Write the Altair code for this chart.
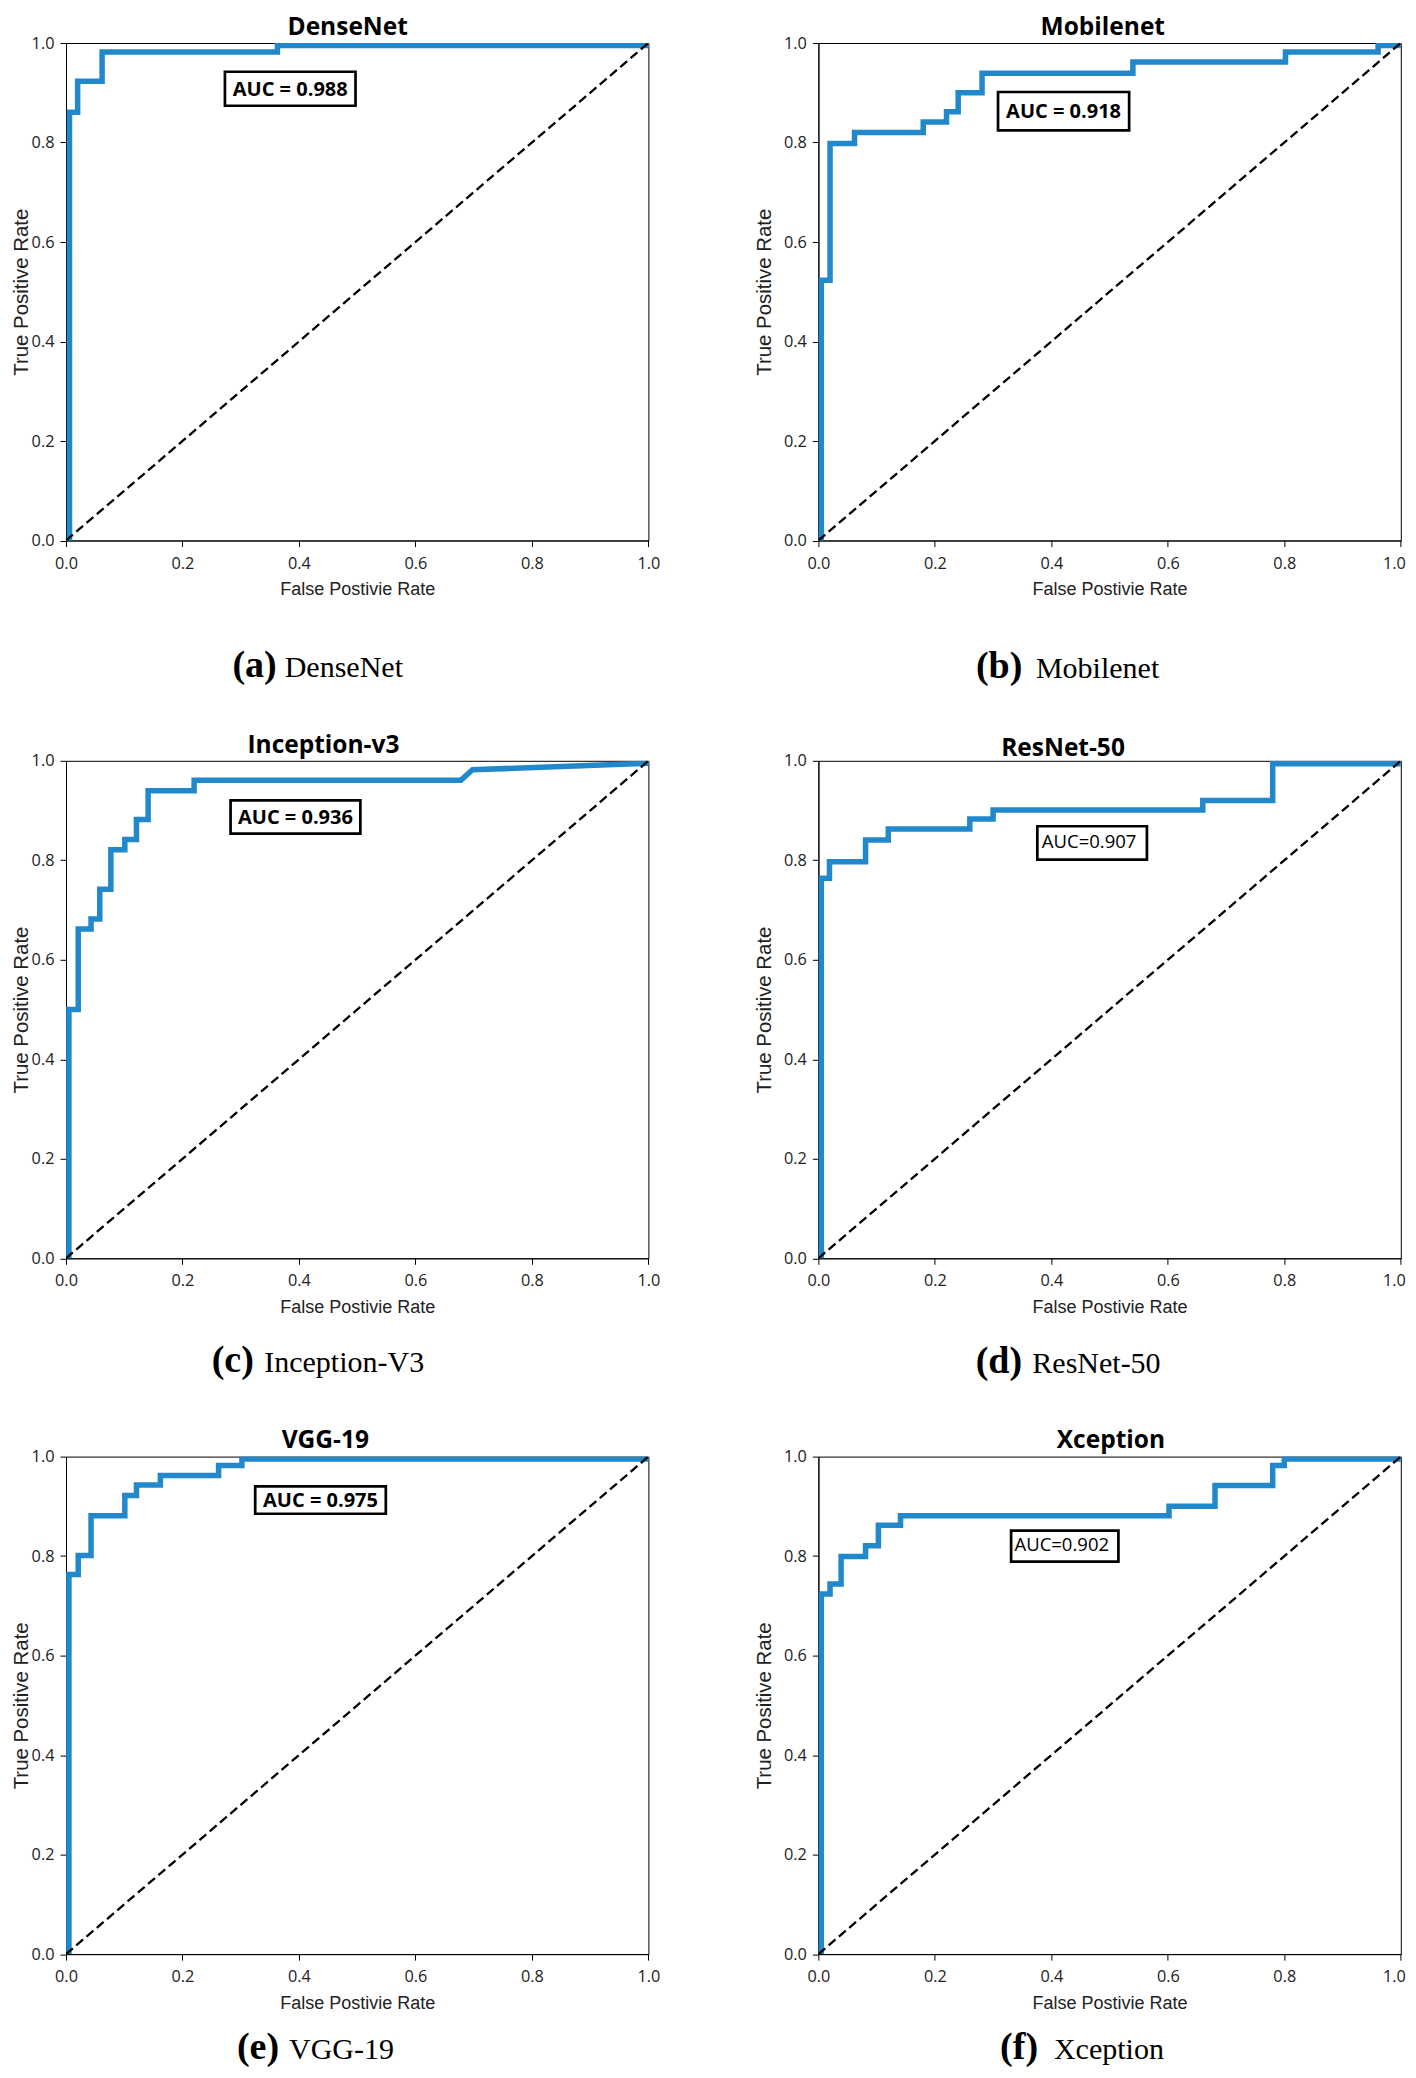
import altair as alt
import pandas as pd

# ---------------- data ----------------
models = ["DenseNet", "Mobilenet", "Inception-v3", "ResNet-50", "VGG-19", "Xception"]
letters = ["(a)", "(b)", "(c)", "(d)", "(e)", "(f)"]
caption_names = ["DenseNet", "Mobilenet", "Inception-V3", "ResNet-50", "VGG-19", "Xception"]
auc_labels = ["AUC = 0.988", "AUC = 0.918", "AUC = 0.936", "AUC=0.907", "AUC = 0.975", "AUC=0.902"]
tick_values = [0.0, 0.2, 0.4, 0.6, 0.8, 1.0]
chance_fpr = [0.0, 1.0]
chance_tpr = [0.0, 1.0]

densenet_fpr = [0.006, 0.006, 0.02, 0.02, 0.062, 0.062, 0.363, 0.363, 1.0]
densenet_tpr = [0.0, 0.861, 0.861, 0.923, 0.923, 0.982, 0.982, 0.995, 0.995]

mobilenet_fpr = [0.005, 0.005, 0.02, 0.02, 0.062, 0.062, 0.18, 0.18, 0.22, 0.22, 0.24, 0.24,
                 0.281, 0.281, 0.54, 0.54, 0.802, 0.802, 0.961, 0.961, 1.0]
mobilenet_tpr = [0.0, 0.523, 0.523, 0.798, 0.798, 0.82, 0.82, 0.841, 0.841, 0.862, 0.862, 0.90,
                 0.90, 0.939, 0.939, 0.962, 0.962, 0.982, 0.982, 0.995, 0.995]

inception_fpr = [0.005, 0.005, 0.021, 0.021, 0.043, 0.043, 0.058, 0.058, 0.077, 0.077, 0.101, 0.101,
                 0.121, 0.121, 0.141, 0.141, 0.22, 0.22, 0.678, 0.698, 1.0]
inception_tpr = [0.0, 0.50, 0.50, 0.662, 0.662, 0.682, 0.682, 0.742, 0.742, 0.821, 0.821, 0.842,
                 0.842, 0.882, 0.882, 0.94, 0.94, 0.961, 0.961, 0.982, 0.995]

resnet_fpr = [0.005, 0.005, 0.019, 0.019, 0.081, 0.081, 0.12, 0.12, 0.26, 0.26, 0.30, 0.30,
              0.66, 0.66, 0.78, 0.78, 1.0]
resnet_tpr = [0.0, 0.764, 0.764, 0.797, 0.797, 0.841, 0.841, 0.863, 0.863, 0.883, 0.883, 0.901,
              0.901, 0.92, 0.92, 0.994, 0.994]

vgg_fpr = [0.005, 0.005, 0.021, 0.021, 0.043, 0.043, 0.101, 0.101, 0.121, 0.121, 0.162, 0.162,
           0.262, 0.262, 0.302, 0.302, 1.0]
vgg_tpr = [0.0, 0.763, 0.763, 0.801, 0.801, 0.881, 0.881, 0.922, 0.922, 0.943, 0.943, 0.962,
           0.962, 0.982, 0.982, 0.995, 0.995]

xception_fpr = [0.005, 0.005, 0.02, 0.02, 0.039, 0.039, 0.081, 0.081, 0.103, 0.103, 0.141, 0.141,
                0.602, 0.602, 0.681, 0.681, 0.78, 0.78, 0.80, 0.80, 1.0]
xception_tpr = [0.0, 0.724, 0.724, 0.744, 0.744, 0.799, 0.799, 0.821, 0.821, 0.862, 0.862, 0.881,
                0.881, 0.90, 0.90, 0.942, 0.942, 0.982, 0.982, 0.995, 0.995]

fprs = [densenet_fpr, mobilenet_fpr, inception_fpr, resnet_fpr, vgg_fpr, xception_fpr]
tprs = [densenet_tpr, mobilenet_tpr, inception_tpr, resnet_tpr, vgg_tpr, xception_tpr]

# ---------------- annotation placement (data units of each panel) ----------------
auc_x = [0.385, 0.421, 0.394, 0.470, 0.437, 0.423]
auc_y = [0.908, 0.863, 0.887, 0.835, 0.9126, 0.820]
box_w_px = [130.6, 131.1, 129.8, 109.6, 130.6, 107.3]
box_h_px = [34.0, 38.3, 33.3, 33.3, 27.3, 30.9]
auc_bold = [True, True, True, False, True, False]
title_x = [0.4837, 0.4883, 0.442, 0.420, 0.4452, 0.5022]
title_gap_px = [7.7, 7.7, 7.9, 4.4, 9.0, 9.0]
cap_letter_x = [0.3618, 0.3503, 0.3226, 0.3498, 0.3659, 0.3772]
cap_name_x = [0.3755, 0.3735, 0.3403, 0.3673, 0.3829, 0.4044]
cap_gap_px = [136.0, 137.2, 113.2, 114.2, 105.0, 105.0]

W, H = 582.4, 497.5
BLUE = "#2189cb"
FONT = "Open Sans"
TFONT = "Liberation Sans"
SERIF = "Liberation Serif"


def make_panel(i, left):
    xscale = alt.Scale(domain=[0, 1], nice=False, zero=False)
    yscale = alt.Scale(domain=[0, 1], nice=False, zero=False)
    x_extra = {}
    if not left:
        # keep the last x label inside the page on the right-hand column
        x_extra = dict(
            labelAlign={"condition": {"test": "datum.value >= 1", "value": "right"}, "value": "center"},
            labelOffset={"condition": {"test": "datum.value >= 1", "value": 4.5}, "value": 0},
        )
    xaxis = alt.Axis(values=tick_values, format=".1f", title="False Postivie Rate", grid=False,
                     labelFlush=False, labelOverlap=False, labelFont=FONT, labelFontSize=16.3,
                     labelColor="#222222", labelPadding=8.5, tickSize=6, tickColor="black",
                     domainColor="black", titleFont=TFONT, titleFontSize=18, titleFontWeight="normal",
                     titleColor="#222222", titlePadding=9.2, **x_extra)
    yaxis = alt.Axis(values=tick_values, format=".1f", title="True Positive Rate", grid=False,
                     labelFlush=False, labelOverlap=False, labelFont=FONT, labelFontSize=16.3,
                     labelColor="#222222", labelPadding=6, tickSize=6, tickColor="black",
                     domainColor="black", titleFont=TFONT, titleFontSize=20.4, titleFontWeight="normal",
                     titleColor="#222222", titlePadding=0 if left else 9.0)

    def X(field="fpr"):
        return alt.X(f"{field}:Q", scale=xscale, axis=xaxis)

    def Y(field="tpr"):
        return alt.Y(f"{field}:Q", scale=yscale, axis=yaxis)

    roc_df = pd.DataFrame({"fpr": fprs[i], "tpr": tprs[i], "step": list(range(len(fprs[i])))})
    roc = alt.Chart(roc_df).mark_line(color=BLUE, strokeWidth=5.5, strokeJoin="miter",
                                      strokeCap="square", clip=True).encode(
        x=X(), y=Y(), order="step:Q")

    diag_df = pd.DataFrame({"fpr": chance_fpr, "tpr": chance_tpr})
    diag = alt.Chart(diag_df).mark_line(color="black", strokeWidth=2.3, strokeDash=[9, 4.5],
                                        clip=True).encode(x=X(), y=Y())

    hw = box_w_px[i] / 2 / W
    hh = box_h_px[i] / 2 / H
    box_df = pd.DataFrame({"fpr": [auc_x[i] - hw], "fpr2": [auc_x[i] + hw],
                           "tpr": [auc_y[i] - hh], "tpr2": [auc_y[i] + hh]})
    box = alt.Chart(box_df).mark_rect(fill="white", stroke="black", strokeWidth=2.7).encode(
        x=X(), x2="fpr2:Q", y=Y(), y2="tpr2:Q")

    auc_df = pd.DataFrame({"fpr": [auc_x[i]], "tpr": [auc_y[i]], "label": [auc_labels[i]]})
    if auc_bold[i]:
        auc_mark = dict(fontSize=20, fontWeight="bold", dy=1)
    else:
        auc_mark = dict(fontSize=18.5, fontWeight="normal", dx=-3, dy=-1)
    auc = alt.Chart(auc_df).mark_text(font=FONT, color="black", align="center", baseline="middle",
                                      **auc_mark).encode(x=X(), y=Y(), text="label:N")

    title_df = pd.DataFrame({"fpr": [title_x[i]], "tpr": [1 + title_gap_px[i] / H],
                             "label": [models[i]]})
    title = alt.Chart(title_df).mark_text(font=FONT, fontSize=24.5, fontWeight="bold", color="black",
                                          align="center", baseline="alphabetic").encode(
        x=X(), y=Y(), text="label:N")

    cap_y = -cap_gap_px[i] / H
    let_df = pd.DataFrame({"fpr": [cap_letter_x[i]], "tpr": [cap_y], "label": [letters[i]]})
    cap_letter = alt.Chart(let_df).mark_text(font=SERIF, fontSize=38, fontWeight="bold",
                                             color="black", align="right",
                                             baseline="alphabetic").encode(
        x=X(), y=Y(), text="label:N")
    name_df = pd.DataFrame({"fpr": [cap_name_x[i]], "tpr": [cap_y], "label": [caption_names[i]]})
    cap_name = alt.Chart(name_df).mark_text(font=SERIF, fontSize=30, fontWeight="normal",
                                            color="black", align="left",
                                            baseline="alphabetic").encode(
        x=X(), y=Y(), text="label:N")

    return alt.layer(roc, diag, box, auc, title, cap_letter, cap_name).properties(width=W, height=H)


panels = [make_panel(i, i % 2 == 0) for i in range(6)]
rows = [alt.hconcat(panels[2 * r], panels[2 * r + 1], spacing=92.4) for r in range(3)]
chart = alt.vconcat(*rows, spacing=44.8).properties(
    padding={"left": 2, "top": 6, "right": 0, "bottom": 0}, background="white")
chart = chart.configure_view(stroke="black", strokeWidth=1)

chart.save("out.html", embed_options={"renderer": "svg", "actions": False})
